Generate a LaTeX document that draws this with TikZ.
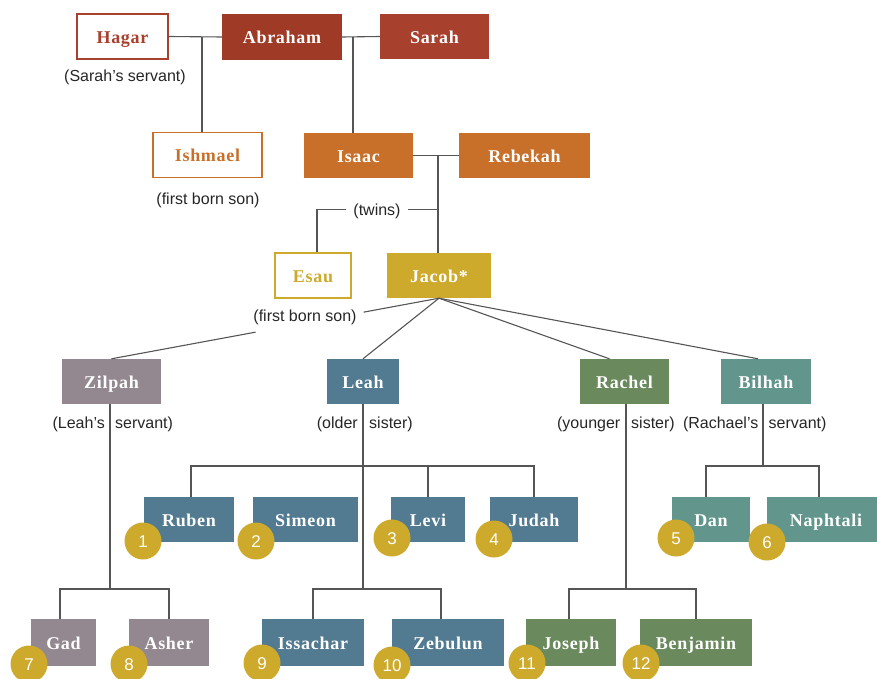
\documentclass[tikz,border=0pt]{standalone}
\usepackage{fontspec}
\setmainfont{Liberation Serif}
\newfontfamily\namefont[LetterSpace=4]{Liberation Serif}
\newfontfamily\labelfont{Liberation Sans}
\usetikzlibrary{calc}

\definecolor{redA}{HTML}{9E3A25}
\definecolor{redB}{HTML}{A8402E}
\definecolor{orangeA}{HTML}{C8702A}
\definecolor{goldA}{HTML}{CDAA2C}
\definecolor{mauveA}{HTML}{938890}
\definecolor{blueA}{HTML}{527A91}
\definecolor{greenA}{HTML}{6A8A5E}
\definecolor{tealA}{HTML}{62968C}
\definecolor{lineA}{HTML}{555555}

\tikzset{
  person/.style={minimum height=45pt, inner sep=0pt, text height=14pt, text depth=0pt,
    font=\namefont\bfseries\fontsize{18}{20}\selectfont, text=white},
  filled/.style={person, fill=#1},
  outlined/.style={person, draw=#1, line width=1.4pt, fill=white, text=#1},
  note/.style={font=\labelfont\fontsize{16}{18}\selectfont, text=black!85, inner sep=0pt,
    text height=11.5pt, text depth=0pt},
  link/.style={draw=lineA, line width=1.1pt},
  badge/.style={circle, fill=goldA, minimum size=37pt, inner sep=0pt, text=white,
    text height=12pt, text depth=0pt, font=\labelfont\fontsize{17}{18}\selectfont},
}

\begin{document}
\begin{tikzpicture}[x=1pt, y=-1pt]
\useasboundingbox (0,0) rectangle (877,679);

% ---- generation 1
\node[outlined=redB, minimum width=91pt] (hagar) at (122.5,36.5) {Hagar};
\node[filled=redA, minimum width=120pt, minimum height=46pt] (abraham) at (282,37) {Abraham};
\node[filled=redB, minimum width=109pt] (sarah) at (434.5,36.5) {Sarah};
\node[note] (hagarnote) at (125,76) {(Sarah’s servant)};

% ---- generation 2
\node[outlined=orangeA, minimum width=109pt] (ishmael) at (207.5,155) {Ishmael};
\node[filled=orangeA, minimum width=109pt] (isaac) at (358.5,155.5) {Isaac};
\node[filled=orangeA, minimum width=131pt] (rebekah) at (524.5,155.5) {Rebekah};
\node[note] (ishnote) at (208,199) {(first born son)};

% ---- generation 3
\node[outlined=goldA, minimum width=76pt] (esau) at (313,275.5) {Esau};
\node[filled=goldA, minimum width=104pt] (jacob) at (439,275.5) {Jacob*};
\node[note] (twins) at (377,209.5) {(twins)};
\node[note] (esaunote) at (305,316) {(first born son)};

% ---- wives of Jacob
\node[filled=mauveA, minimum width=99pt] (zilpah) at (111.5,381.5) {Zilpah};
\node[filled=blueA, minimum width=72pt] (leah) at (363,381.5) {Leah};
\node[filled=greenA, minimum width=89pt] (rachel) at (624.5,381.5) {Rachel};
\node[filled=tealA, minimum width=90pt] (bilhah) at (766,381.5) {Bilhah};

\node[note, anchor=east] (zn1) at (105,423) {(Leah’s};
\node[note, anchor=west] (zn2) at (115,423) {servant)};
\node[note, anchor=east] (ln1) at (358,423) {(older};
\node[note, anchor=west] (ln2) at (369,423) {sister)};
\node[note, anchor=east] (rn1) at (620.5,423) {(younger};
\node[note, anchor=west] (rn2) at (631,423) {sister)};
\node[note, anchor=east] (bn1) at (758.5,423) {(Rachael’s};
\node[note, anchor=west] (bn2) at (768.5,423) {servant)};

% ---- sons, upper row
\node[filled=blueA, minimum width=90pt] (ruben) at (189,519.5) {Ruben};
\node[filled=blueA, minimum width=105pt] (simeon) at (305.5,519.5) {Simeon};
\node[filled=blueA, minimum width=74pt] (levi) at (428,519.5) {Levi};
\node[filled=blueA, minimum width=88pt] (judah) at (534,519.5) {Judah};
\node[filled=tealA, minimum width=78pt] (dan) at (711,519.5) {Dan};
\node[filled=tealA, minimum width=118pt] (naphtali) at (826,519.5) {Naphtali};

% ---- sons, lower row
\node[filled=mauveA, minimum width=65pt, minimum height=47pt] (gad) at (63.5,642.5) {Gad};
\node[filled=mauveA, minimum width=80pt, minimum height=47pt] (asher) at (169,642.5) {Asher};
\node[filled=blueA, minimum width=102pt, minimum height=47pt] (issachar) at (313,642.5) {Issachar};
\node[filled=blueA, minimum width=112pt, minimum height=47pt] (zebulun) at (448,642.5) {Zebulun};
\node[filled=greenA, minimum width=90pt, minimum height=47pt] (joseph) at (571,642.5) {Joseph};
\node[filled=greenA, minimum width=112pt, minimum height=47pt] (benjamin) at (696,642.5) {Benjamin};

% ---- connectors: Abraham's family
\draw[link] (hagar.east) -- (abraham.west);
\coordinate (hA) at (202,37);
\draw[link] (hA) -- (hA |- ishmael.north);
\draw[link] (abraham.east) -- (sarah.west);
\coordinate (aS) at (353,37);
\draw[link] (aS) -- (aS |- isaac.north);

% ---- Isaac and Rebekah
\draw[link] (isaac.east) -- (rebekah.west);
\coordinate (iR) at (438,155.5);
\draw[link] (iR) -- (iR |- jacob.north);
\coordinate (tw) at (317,209.5);
\draw[link] ($(twins.east)+(7,0)$) -- (twins.east -| iR);
\draw[link] ($(twins.west)+(-7,0)$) -- (tw) -- (tw |- esau.north);

% ---- Jacob to his wives
\draw[link] (jacob.south) -- ($(jacob.south)!0.23!(zilpah.north)$);
\draw[link] ($(jacob.south)!0.56!(zilpah.north)$) -- (zilpah.north);
\draw[link] (jacob.south) -- (leah.north);
\draw[link] (jacob.south) -- ($(rachel.north)+(-15,0)$);
\draw[link] (jacob.south) -- ($(bilhah.north)+(-8,0)$);

% ---- Zilpah's sons
\coordinate (zb) at (110,589);
\draw[link] (zilpah.south -| zb) -- (zb);
\draw[link] ($(gad.north)+(-3.5,0)$) |- (zb) -| (asher.north);

% ---- Leah's sons
\coordinate (lb1) at (363,466);
\coordinate (lb2) at (363,589);
\draw[link] (leah.south) -- (lb2);
\draw[link] ($(ruben.north)+(2,0)$) |- (lb1) -| (judah.north);
\draw[link] ($(simeon.north)+(-1.5,0)$) -- ($(simeon.north)+(-1.5,0)$ |- lb1);
\draw[link] (levi.north) -- (levi.north |- lb1);
\draw[link] (issachar.north) |- (lb2) -| ($(zebulun.north)+(-7,0)$);

% ---- Rachel's sons
\coordinate (rb) at (626,589);
\draw[link] (rachel.south -| rb) -- (rb);
\draw[link] ($(joseph.north)+(-2,0)$) |- (rb) -| (benjamin.north);

% ---- Bilhah's sons
\coordinate (bb) at (763,466);
\draw[link] (bilhah.south -| bb) -- (bb);
\draw[link] ($(dan.north)+(-5,0)$) |- (bb) -| ($(naphtali.north)+(-7,0)$);

% ---- birth order badges
\node[badge] (b1) at (143,541) {1};
\node[badge] (b2) at (256,541) {2};
\node[badge] (b3) at (392,538) {3};
\node[badge] (b4) at (494,539) {4};
\node[badge] (b5) at (676,538) {5};
\node[badge] (b6) at (767,542) {6};
\node[badge] (b7) at (29,664) {7};
\node[badge] (b8) at (129,664) {8};
\node[badge] (b9) at (262,663) {9};
\node[badge] (b10) at (392,665) {10};
\node[badge] (b11) at (527,663) {11};
\node[badge] (b12) at (641,663) {12};
\end{tikzpicture}
\end{document}
